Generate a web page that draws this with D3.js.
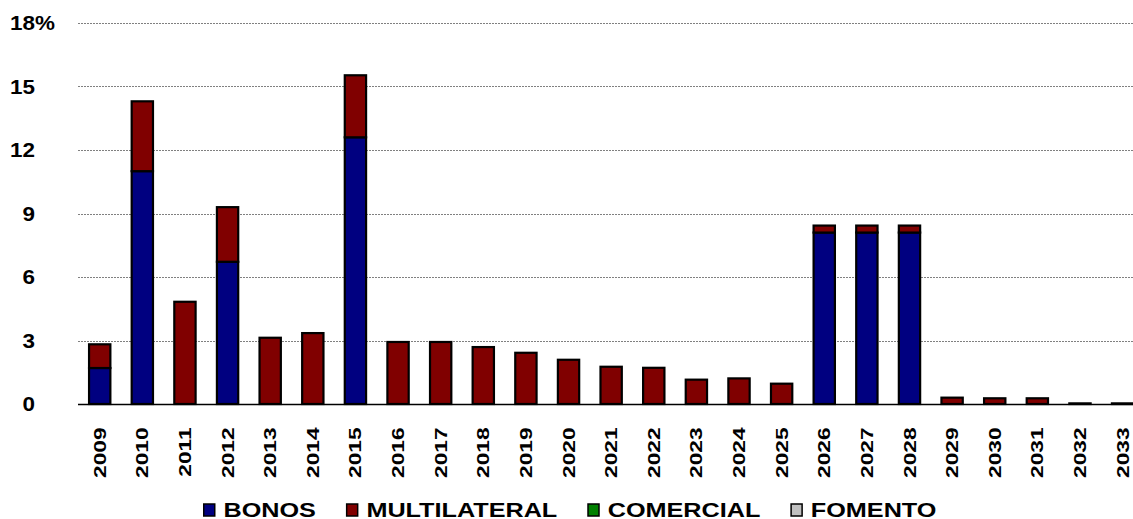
<!DOCTYPE html>
<html>
<head>
<meta charset="utf-8">
<script src="https://cdn.jsdelivr.net/npm/d3@7/dist/d3.min.js"></script>
<style>
  html, body { margin: 0; padding: 0; background: #fff; }
  svg { display: block; }
  text { font-family: "Liberation Sans", Arial, Helvetica, sans-serif; font-weight: bold; fill: #000; }
</style>
</head>
<body>
<svg id="chart" width="1133" height="519"></svg>
<script>
// Debt amortisation profile by source, % per year
const years = ["2009","2010","2011","2012","2013","2014","2015","2016","2017","2018","2019","2020",
  "2021","2022","2023","2024","2025","2026","2027","2028","2029","2030","2031","2032","2033"];
const bonos        = [1.70, 11.0, 0, 6.72, 0, 0, 12.6, 0, 0, 0, 0, 0, 0, 0, 0, 0, 0, 8.10, 8.10, 8.10, 0, 0, 0, 0, 0];
const multilateral = [1.12, 3.30, 4.83, 2.58, 3.13, 3.35, 2.93, 2.93, 2.93, 2.69, 2.42, 2.09, 1.76, 1.71, 1.15, 1.21, 0.96, 0.33, 0.33, 0.33, 0.30, 0.27, 0.27, 0.03, 0.03];
const comercial    = new Array(years.length).fill(0);
const fomento      = new Array(years.length).fill(0);
const seriesNames  = ["BONOS", "MULTILATERAL", "COMERCIAL", "FOMENTO"];
const seriesColors = ["#000080", "#800000", "#008000", "#C0C0C0"];
const yTicks = [0, 3, 6, 9, 12, 15, 18];

const svg = d3.select("#chart");
const keys = ["bonos", "multilateral", "comercial", "fomento"];
const rows = years.map((y, i) => ({
  year: y, bonos: bonos[i], multilateral: multilateral[i], comercial: comercial[i], fomento: fomento[i]
}));
const stacked = d3.stack().keys(keys)(rows);

const x = d3.scaleBand().domain(years).range([78.4, 1143.9]).paddingInner(0.5).paddingOuter(0.25);
const y = d3.scaleLinear().domain([0, 18]).range([404, 23]);

// Stretch a text element horizontally to a given factor of its natural length;
// returns the stretched length of the last element
function stretch(sel, factor) {
  let out = 0;
  sel.each(function () {
    const len = this.getComputedTextLength() * factor;
    d3.select(this).attr("textLength", len).attr("lengthAdjust", "spacingAndGlyphs");
    out = len;
  });
  return out;
}

// Gridlines
svg.append("g").selectAll("line").data(yTicks.filter(d => d > 0)).join("line")
  .attr("x1", 78).attr("x2", 1133)
  .attr("y1", d => Math.round(y(d)) + 0.5).attr("y2", d => Math.round(y(d)) + 0.5)
  .attr("stroke", "#808080").attr("stroke-width", 1).attr("stroke-dasharray", "2,1");

// Y labels (right aligned as if each carried the percent sign)
const pctProbe = svg.append("text").attr("font-size", 19.5).text("%");
const pctW = pctProbe.node().getComputedTextLength() * 1.15;
pctProbe.remove();
const yLab = svg.append("g").selectAll("text").data(yTicks).join("text")
  .attr("font-size", 19.5)
  .attr("text-anchor", "end")
  .attr("x", d => d === 18 ? 55 : 55 - pctW)
  .attr("y", d => y(d))
  .attr("dy", "0.36em")
  .text(d => d === 18 ? "18%" : String(d));
stretch(yLab, 1.15);

// Bars
svg.append("g").selectAll("g").data(stacked).join("g")
  .attr("fill", (d, i) => seriesColors[i])
  .selectAll("rect").data(d => d.filter(s => s[1] - s[0] > 0)).join("rect")
  .attr("x", d => x(d.data.year))
  .attr("width", x.bandwidth())
  .attr("y", d => y(d[1]))
  .attr("height", d => y(d[0]) - y(d[1]))
  .attr("stroke", "#000").attr("stroke-width", 2.2);

// Category axis line
svg.append("line").attr("x1", 78).attr("x2", 1133).attr("y1", 404.5).attr("y2", 404.5)
  .attr("stroke", "#000").attr("stroke-width", 1.5);

// Year labels, rotated
const xLab = svg.append("g").selectAll("text").data(years).join("text")
  .attr("font-size", 16.8)
  .attr("text-anchor", "end")
  .attr("transform", d => `translate(${x(d) + x.bandwidth() / 2},427.5) rotate(-90)`)
  .attr("dy", "0.36em")
  .text(d => d);
stretch(xLab, 1.35);

// Legend
const legend = svg.append("g");
let lx = 203;
seriesNames.forEach((name, i) => {
  legend.append("rect")
    .attr("x", lx + 0.75).attr("y", 504).attr("width", 11).attr("height", 12)
    .attr("fill", seriesColors[i]).attr("stroke", "#000").attr("stroke-width", 1.5);
  const t = legend.append("text")
    .attr("font-size", 21).attr("x", lx + 20.5).attr("y", 517).text(name);
  const w = stretch(t, 1.2);
  lx += 20.5 + w + 30;
});
</script>
</body>
</html>
